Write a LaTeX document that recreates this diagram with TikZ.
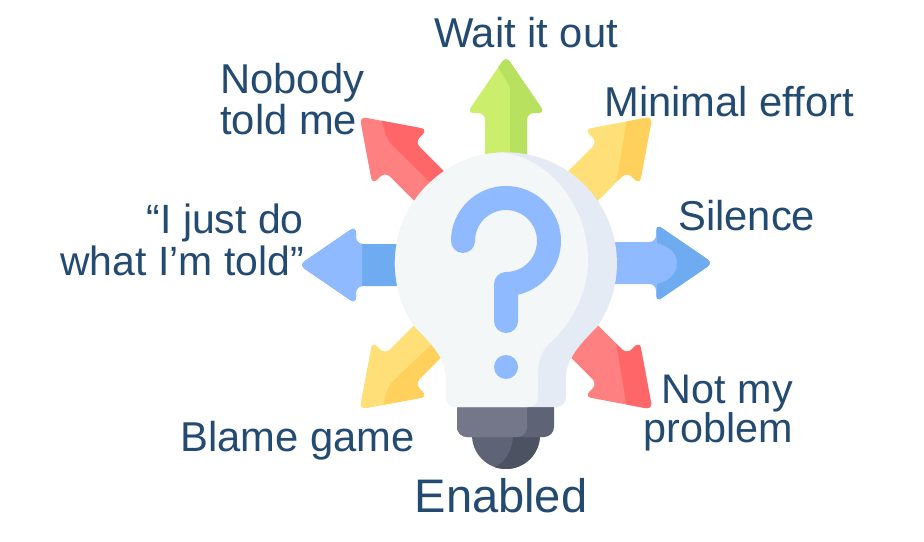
\documentclass[tikz,border=0pt]{standalone}
\usepackage{fontspec}
\setmainfont{Liberation Sans}
\definecolor{inktext}{HTML}{234A71}
\definecolor{greenlite}{HTML}{CBEE6C}
\definecolor{greendark}{HTML}{B9E160}
\definecolor{redlite}{HTML}{FF8080}
\definecolor{reddark}{HTML}{FF6667}
\definecolor{yellowlite}{HTML}{FFDF77}
\definecolor{yellowdark}{HTML}{FFD05B}
\definecolor{bluelite}{HTML}{8FBAFF}
\definecolor{bluedark}{HTML}{6FABF0}
\definecolor{bulblite}{HTML}{F3F7F8}
\definecolor{bulbdark}{HTML}{E4EBF5}
\definecolor{baselite}{HTML}{737789}
\definecolor{basedark}{HTML}{5F6376}
\definecolor{capdark}{HTML}{4D5263}
\newcommand{\arrowpath}{[rounded corners=5pt] (-21,-90) -- (-21,-150) -- (-39,-150) -- (0,-207) -- (39,-150) -- (21,-150) -- (21,-90) -- cycle}
\newcommand{\bulbpath}{(415,327) arc[start angle=215, end angle=-35, radius=83.25pt]
  .. controls (578,346) and (566,360) .. (566,378) -- (566,397)
  .. controls (566,403) and (562,407) .. (556,407) -- (456,407)
  .. controls (450,407) and (446,403) .. (446,397) -- (446,378)
  .. controls (446,360) and (434,346) .. (415,327) -- cycle}
\begin{document}
\begin{tikzpicture}[x=0.75pt, y=-0.75pt]
	\tikzstyle{label}=[text=inktext, inner sep=0, font=\fontsize{31.3}{31}\selectfont]
	\useasboundingbox (0,0) rectangle (924,542);
	% Arrows
	\foreach \ang/\cy/\lite/\dark/\patch in {
		0/263/greenlite/greendark/{(496,50) -- (498,67) -- (510,87) -- (510,160) -- (560,160) -- (560,50) -- cycle},
		45/263/redlite/reddark/{(381,112) -- (382,122) .. controls (384,130) and (387,140) .. (392,145) -- (430,182) -- (470,150) -- (430,100) -- cycle},
		-45/263/yellowlite/yellowdark/{(628,112) -- (617,180) -- (680,185) -- (680,100) -- cycle},
		90/265/bluedark/bluelite/{(290,220) -- (362,220) -- (362,310) -- (290,310) -- cycle},
		-90/263/bluelite/bluedark/{(657,220) -- (657,243) .. controls (672,247) and (677,255) .. (677,263) .. controls (677,272) and (672,280) .. (657,284) -- (657,310) -- (730,310) -- (730,220) -- cycle},
		135/263/yellowlite/yellowdark/{(380,420) -- (383,407) .. controls (385,397) and (387,388) .. (392,382) -- (432,344) -- (470,370) -- (420,440) -- cycle},
		225/263/redlite/reddark/{(614,330) -- (617,348) -- (627,408) -- (629,430) -- (680,430) -- (680,330) -- cycle}
	}{
		\fill[\lite, shift={(506,\cy)}, rotate=\ang] \arrowpath;
		\begin{scope}
			\clip[shift={(506,\cy)}, rotate=\ang] \arrowpath;
			\fill[\dark] \patch;
		\end{scope}
	}
	% Cap
	\fill[basedark] (472,430) -- (540,430) -- (540,435) arc[start angle=0, end angle=-180, radius=25.5pt] -- cycle;
	\begin{scope}
		\clip (472,430) -- (540,430) -- (540,435) arc[start angle=0, end angle=-180, radius=25.5pt] -- cycle;
		\fill[capdark] (513,430) -- (513,437) .. controls (512,452) and (505,463) .. (493,468) -- (500,480) -- (550,480) -- (550,430) -- cycle;
	\end{scope}
	% Base
	\fill[basedark, rounded corners=7.5pt] (457,395) -- (457,437) -- (554,437) -- (554,395) -- cycle;
	\begin{scope}
		\clip[rounded corners=7.5pt] (457,395) -- (457,437) -- (554,437) -- (554,395) -- cycle;
		\fill[baselite] (450,395) -- (527,395) -- (527,428) .. controls (527,433) and (522,437) .. (517,437) -- (450,437) -- cycle;
	\end{scope}
	% Bulb
	\fill[bulbdark] \bulbpath;
	\begin{scope}
		\clip \bulbpath;
		\fill[bulblite] (497,152) .. controls (548,155) and (588,205) .. (588,260) .. controls (588,295) and (570,325) .. (550,343) .. controls (542,350) and (538,360) .. (538,375) -- (538,397) .. controls (538,403) and (534,407) .. (528,407) -- (440,420) -- (380,300) -- (380,130) -- cycle;
	\end{scope}
	% Question mark
	\draw[bluelite, line width=18pt, line cap=round, line join=round] (463,241) arc[start angle=180, end angle=-90, radius=32.25pt] -- (506,321);
	\fill[bluelite] (506,367) circle[radius=9pt];
	% Labels
	\node[label, anchor=base] (waitout) at (526,48) {Wait it out};
	\node[label, anchor=west, align=left] (nobody) at (220,99) {Nobody\\told me};
	\node[label, anchor=base west] (minimal) at (604,117) {Minimal effort};
	\node[label, anchor=east, align=right, font=\fontsize{30.7}{31}\selectfont] (justdo) at (304,240) {“I just do\\what I’m told”};
	\node[label, anchor=base west] (silence) at (678,230) {Silence};
	\node[label, anchor=east, align=right, font=\fontsize{31}{28.5}\selectfont] (notmine) at (793,413) {Not my\\problem};
	\node[label, anchor=base west] (blame) at (180,451) {Blame game};
	\node[label, anchor=base, font=\fontsize{35.3}{35}\selectfont] (enabled) at (501,512) {Enabled};
\end{tikzpicture}
\end{document}
